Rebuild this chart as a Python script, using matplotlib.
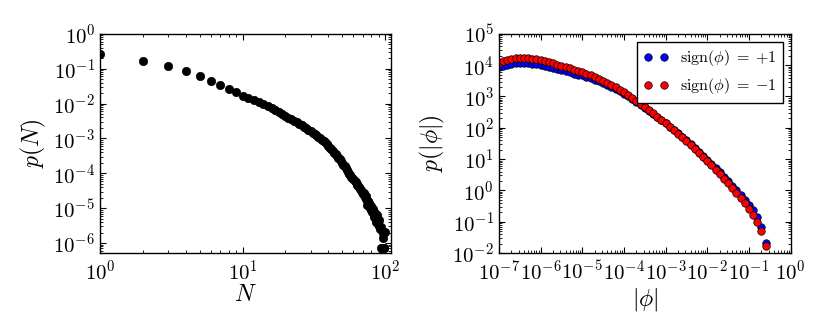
import numpy as np
import matplotlib
matplotlib.use("Agg")
import matplotlib.pyplot as plt
from matplotlib.ticker import LogLocator, NullFormatter

plt.rcParams['font.family'] = 'serif'
plt.rcParams['font.serif'] = ['cmr10']
plt.rcParams['mathtext.fontset'] = 'cm'
plt.rcParams['axes.formatter.use_mathtext'] = True
plt.rcParams['xtick.direction'] = 'in'
plt.rcParams['ytick.direction'] = 'in'
plt.rcParams['xtick.top'] = True
plt.rcParams['ytick.right'] = True
plt.rcParams['xtick.major.size'] = 4
plt.rcParams['ytick.major.size'] = 4
plt.rcParams['xtick.minor.size'] = 2
plt.rcParams['ytick.minor.size'] = 2

# left panel: p(N), N = 1..100 (values read as log10 p)
N = list(range(1, 101))
log_pN = [-0.58, -0.78, -0.93, -1.07, -1.22, -1.34, -1.47, -1.57, -1.68, -1.77,
          -1.84, -1.90, -1.96, -2.02, -2.08, -2.14, -2.19, -2.24, -2.30, -2.36,
          -2.40, -2.45, -2.49, -2.53, -2.58, -2.62, -2.66, -2.70, -2.75, -2.80,
          -2.84, -2.87, -2.91, -2.95, -2.99, -3.03, -3.07, -3.11, -3.16, -3.21,
          -3.26, -3.31, -3.36, -3.41, -3.45, -3.50, -3.55, -3.60, -3.65, -3.70,
          -3.75, -3.80, -3.86, -3.91, -3.96, -4.01, -4.06, -4.10, -4.14, -4.17,
          -4.22, -4.26, -4.30, -4.34, -4.37, -4.40, -4.44, -4.48, -4.53, -4.60,
          -4.56, -4.68, -4.64, -4.75, -4.90, -4.80, -4.86, -5.00, -4.95, -5.05,
          -5.12, -5.02, -5.18, -5.25, -5.15, -5.30, -5.40, -5.20, -5.45, -5.35,
          -5.50, -5.60, -6.15, -5.55, -6.15, -5.70, -5.86, -6.15, -6.15, -5.69]

# right panel: p(|phi|) for each sign (log10 phi, log10 p)
phi_exp = [-7.0, -6.9, -6.8, -6.7, -6.6, -6.5, -6.4, -6.3, -6.2, -6.1,
           -6.0, -5.9, -5.8, -5.7, -5.6, -5.5, -5.4, -5.3, -5.2, -5.1,
           -5.0, -4.9, -4.8, -4.7, -4.6, -4.5, -4.4, -4.3, -4.2, -4.1,
           -4.0, -3.9, -3.8, -3.7, -3.6, -3.5, -3.4, -3.3, -3.2, -3.1,
           -3.0, -2.9, -2.8, -2.7, -2.6, -2.5, -2.4, -2.3, -2.2, -2.1,
           -2.0, -1.9, -1.8, -1.7, -1.6, -1.5, -1.4, -1.3, -1.2, -1.1,
           -1.0, -0.9, -0.8, -0.7, -0.6]
log_p_neg = [4.08, 4.14, 4.18, 4.21, 4.22, 4.23, 4.23, 4.22, 4.21, 4.19,
             4.16, 4.13, 4.10, 4.06, 4.02, 3.98, 3.94, 3.90, 3.86, 3.82,
             3.78, 3.73, 3.68, 3.62, 3.57, 3.51, 3.44, 3.37, 3.30, 3.22,
             3.13, 3.04, 2.95, 2.86, 2.76, 2.66, 2.56, 2.46, 2.35, 2.24,
             2.14, 2.03, 1.92, 1.81, 1.69, 1.57, 1.45, 1.32, 1.19, 1.06,
             0.93, 0.80, 0.66, 0.52, 0.37, 0.22, 0.07, -0.08, -0.24, -0.40,
             -0.58, -0.78, -1.02, -1.30, -1.78]
log_p_pos = [3.93, 3.98, 4.02, 4.05, 4.06, 4.07, 4.07, 4.06, 4.05, 4.03,
             4.00, 3.97, 3.94, 3.91, 3.87, 3.84, 3.80, 3.77, 3.73, 3.70,
             3.67, 3.62, 3.58, 3.53, 3.48, 3.43, 3.37, 3.30, 3.24, 3.16,
             3.08, 3.00, 2.91, 2.83, 2.73, 2.64, 2.54, 2.45, 2.34, 2.24,
             2.14, 2.04, 1.93, 1.83, 1.71, 1.60, 1.48, 1.36, 1.23, 1.10,
             0.97, 0.85, 0.72, 0.58, 0.44, 0.29, 0.15, 0.00, -0.15, -0.30,
             -0.46, -0.64, -0.86, -1.18, -1.67]

fig = plt.figure(figsize=(8.3, 3.32), dpi=100)
ax1 = fig.add_axes([0.1205, 0.238, 0.3506, 0.66])
ax2 = fig.add_axes([0.601, 0.238, 0.3515, 0.66])

ax1.plot(N, np.power(10.0, log_pN), 'o', color='k', ms=6, mec='k', mew=0.5)
ax1.set_xscale('log')
ax1.set_yscale('log')
ax1.set_xlim(1, 110)
ax1.set_ylim(5.2e-7, 1)
ax1.set_xlabel(r'$N$', fontsize=17, labelpad=0)
ax1.set_ylabel(r'$p(N)$', fontsize=17)

phi = np.power(10.0, phi_exp)
ax2.plot(phi, np.power(10.0, log_p_pos), 'o', color='b', ms=5.4, mec='k', mew=0.5,
         label=r'$\mathrm{sign}(\phi)\;=\;{+}1$')
ax2.plot(phi, np.power(10.0, log_p_neg), 'o', color='r', ms=5.4, mec='k', mew=0.5,
         label=r'$\mathrm{sign}(\phi)\;=\;{-}1$')
ax2.set_xscale('log')
ax2.set_yscale('log')
ax2.set_xlim(1e-7, 1)
ax2.set_ylim(1e-2, 1e5)
ax2.set_xlabel(r'$|\phi|$', fontsize=17, labelpad=1)
ax2.set_ylabel(r'$p(|\phi|)$', fontsize=17)
leg = ax2.legend(loc='upper right', numpoints=2, fontsize=11.5, fancybox=False,
                 framealpha=1, edgecolor='k', handlelength=1.6, handletextpad=0.7)
leg.get_frame().set_linewidth(1.0)

for ax in (ax1, ax2):
    for a in (ax.xaxis, ax.yaxis):
        a.set_major_locator(LogLocator(base=10, numticks=30))
        a.set_minor_locator(LogLocator(base=10, subs=np.arange(2, 10), numticks=30))
        a.set_minor_formatter(NullFormatter())
    ax.tick_params(which='both', labelsize=15)
    ax.tick_params(axis='x', pad=5)
    for s in ax.spines.values():
        s.set_linewidth(1.0)

fig.savefig('out.png', dpi=100)
